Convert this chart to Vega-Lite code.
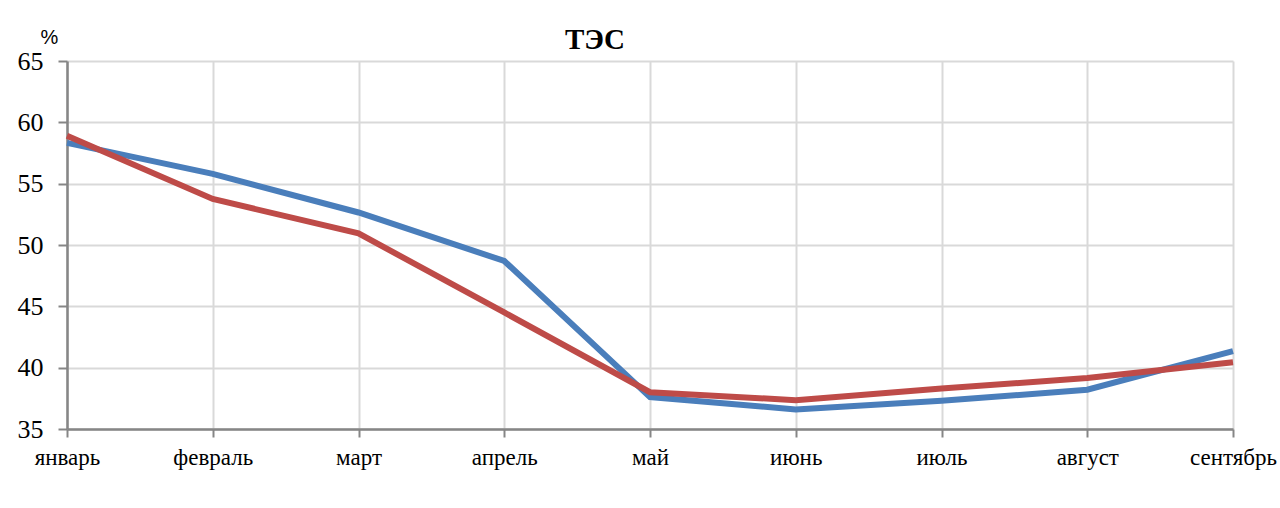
{
  "$schema": "https://vega.github.io/schema/vega-lite/v6.json",
  "width": 1166,
  "height": 368,
  "autosize": {"type": "none"},
  "padding": {"left": 67, "top": 61, "right": 47, "bottom": 79},
  "background": "white",
  "config": {
    "font": "Liberation Serif",
    "view": {"stroke": null}
  },
  "title": {
    "text": "ТЭС",
    "font": "Liberation Serif",
    "fontSize": 29,
    "fontWeight": "bold",
    "color": "#000000",
    "anchor": "middle",
    "baseline": "alphabetic",
    "dx": -55,
    "offset": -51
  },
  "data": {
    "values": [
      {"month": "январь", "series": "a", "value": 58.33},
      {"month": "февраль", "series": "a", "value": 55.8},
      {"month": "март", "series": "a", "value": 52.65},
      {"month": "апрель", "series": "a", "value": 48.7},
      {"month": "май", "series": "a", "value": 37.6},
      {"month": "июнь", "series": "a", "value": 36.6},
      {"month": "июль", "series": "a", "value": 37.3},
      {"month": "август", "series": "a", "value": 38.2},
      {"month": "сентябрь", "series": "a", "value": 41.35},
      {"month": "январь", "series": "b", "value": 58.9},
      {"month": "февраль", "series": "b", "value": 53.75},
      {"month": "март", "series": "b", "value": 50.95},
      {"month": "апрель", "series": "b", "value": 44.5},
      {"month": "май", "series": "b", "value": 38.0},
      {"month": "июнь", "series": "b", "value": 37.35},
      {"month": "июль", "series": "b", "value": 38.3},
      {"month": "август", "series": "b", "value": 39.15},
      {"month": "сентябрь", "series": "b", "value": 40.45}
    ]
  },
  "mark": {"type": "line", "strokeWidth": 6, "strokeJoin": "miter", "strokeCap": "butt"},
  "encoding": {
    "x": {
      "field": "month",
      "type": "ordinal",
      "sort": null,
      "scale": {"type": "point", "padding": 0},
      "axis": {
        "title": null,
        "labelAngle": 0,
        "labelFont": "Liberation Serif",
        "labelFontSize": 23,
        "labelColor": "#000000",
        "labelPadding": 9,
        "tickSize": 8,
        "tickColor": "#868686",
        "tickWidth": 2,
        "domainColor": "#868686",
        "domainWidth": 2.5,
        "grid": true,
        "gridColor": "#D9D9D9",
        "gridWidth": 2,
        "labelOverlap": false,
        "labelFlush": false
      }
    },
    "y": {
      "field": "value",
      "type": "quantitative",
      "scale": {"domain": [35, 65], "nice": false, "zero": false},
      "axis": {
        "title": "%",
        "titleAngle": 0,
        "titleFont": "Liberation Sans",
        "titleFontSize": 20,
        "titleFontWeight": "normal",
        "titleColor": "#000000",
        "titleX": -18,
        "titleY": -18,
        "titleAlign": "center",
        "titleBaseline": "alphabetic",
        "values": [35, 40, 45, 50, 55, 60, 65],
        "labelFont": "Liberation Serif",
        "labelFontSize": 26,
        "labelColor": "#000000",
        "labelPadding": 15,
        "tickSize": 9,
        "tickColor": "#868686",
        "tickWidth": 2,
        "domainColor": "#868686",
        "domainWidth": 2.5,
        "grid": true,
        "gridColor": "#D9D9D9",
        "gridWidth": 2
      }
    },
    "color": {
      "field": "series",
      "type": "nominal",
      "scale": {"domain": ["a", "b"], "range": ["#4A7EBB", "#BE4B48"]},
      "legend": null
    }
  }
}
